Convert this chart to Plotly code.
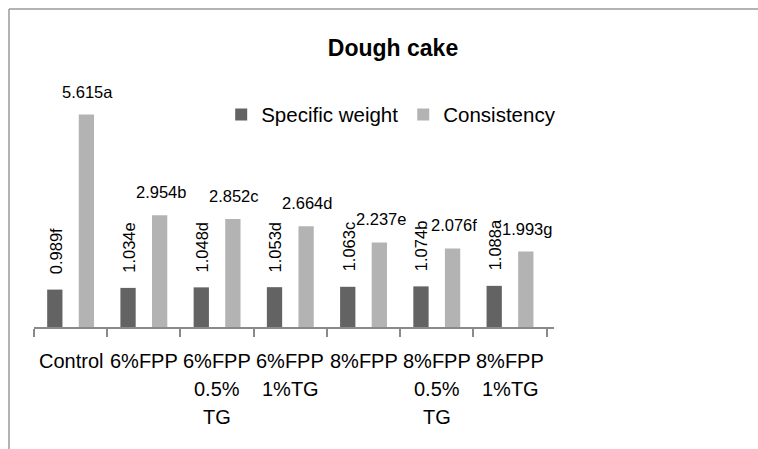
import plotly.graph_objects as go

categories = ["Control", "6%FPP", "6%FPP 0.5% TG", "6%FPP 1%TG", "8%FPP", "8%FPP 0.5% TG", "8%FPP 1%TG"]
category_lines = [["Control"], ["6%FPP"], ["6%FPP", "0.5%", "TG"], ["6%FPP", "1%TG"],
                  ["8%FPP"], ["8%FPP", "0.5%", "TG"], ["8%FPP", "1%TG"]]
specific_weight = [0.989, 1.034, 1.048, 1.053, 1.063, 1.074, 1.088]
specific_weight_letters = ["f", "e", "d", "d", "c", "b", "a"]
consistency = [5.615, 2.954, 2.852, 2.664, 2.237, 2.076, 1.993]
consistency_letters = ["a", "b", "c", "d", "e", "f", "g"]

FONT = "Liberation Sans, Arial, sans-serif"
DARK = "#636363"
LIGHT = "#b3b3b3"
AXIS = "#8a8a8a"

fig = go.Figure()
fig.add_trace(go.Bar(name="Specific weight", x=categories, y=specific_weight,
                     marker=dict(color=DARK, line=dict(width=0))))
fig.add_trace(go.Bar(name="Consistency", x=categories, y=consistency,
                     marker=dict(color=LIGHT, line=dict(width=0))))

annotations = []
for c, v, l in zip(categories, specific_weight, specific_weight_letters):
    annotations.append(dict(x=c, y=v, xref="x", yref="y", text=f"{v:.3f}{l}",
                            textangle=-90, showarrow=False, xanchor="center", yanchor="bottom",
                            xshift=-15, yshift=13, font=dict(family=FONT, size=16.5, color="#000")))
for c, v, l in zip(categories, consistency, consistency_letters):
    annotations.append(dict(x=c, y=v, xref="x", yref="y", text=f"{v:.3f}{l}",
                            showarrow=False, xanchor="center", yanchor="bottom",
                            xshift=17, yshift=12, font=dict(family=FONT, size=16.5, color="#000")))
for c, lines in zip(categories, category_lines):
    for i, line in enumerate(lines):
        annotations.append(dict(x=c, y=0, xref="x", yref="paper", text=line,
                                showarrow=False, xanchor="center", yanchor="top",
                                yshift=-21 - 28 * i, font=dict(family=FONT, size=20, color="#000")))

fig.update_layout(
    width=758, height=449,
    margin=dict(l=34, r=204, t=80, b=122),
    paper_bgcolor="white", plot_bgcolor="white",
    barmode="group", bargap=0.137, bargroupgap=0.516,
    title=dict(text="<b>Dough cake</b>", x=393 / 758, xref="container", xanchor="center",
               y=1 - 48 / 449, yref="container", yanchor="middle",
               font=dict(family=FONT, size=23, color="#000")),
    legend=dict(orientation="h", x=0.36, xanchor="left", y=0.86, yanchor="middle",
                font=dict(family=FONT, size=20.5, color="#000"), bgcolor="rgba(0,0,0,0)",
                itemclick=False),
    xaxis=dict(showline=True, linecolor=AXIS, linewidth=1.5, ticks="outside",
               tickson="boundaries", ticklen=8, tickcolor=AXIS, tickwidth=1.5,
               showticklabels=False, showgrid=False, zeroline=False),
    yaxis=dict(range=[0, 6.53], visible=False, showgrid=False, zeroline=False),
    annotations=annotations,
    shapes=[
        dict(type="line", xref="paper", yref="paper", x0=(9 - 34) / 520, x1=(9 - 34) / 520,
             y0=1 + (80 - 9) / 247, y1=-(449 - 327) / 247, line=dict(color="#9a9a9a", width=1.5)),
        dict(type="line", xref="paper", yref="paper", x0=(9 - 34) / 520, x1=(758 - 34) / 520,
             y0=1 + (80 - 9) / 247, y1=1 + (80 - 9) / 247, line=dict(color="#9a9a9a", width=1.5)),
    ],
    showlegend=True,
)

fig.write_html("out.html", config={"displayModeBar": False},
               post_script="document.body.style.margin='0';document.body.style.overflow='hidden';")
